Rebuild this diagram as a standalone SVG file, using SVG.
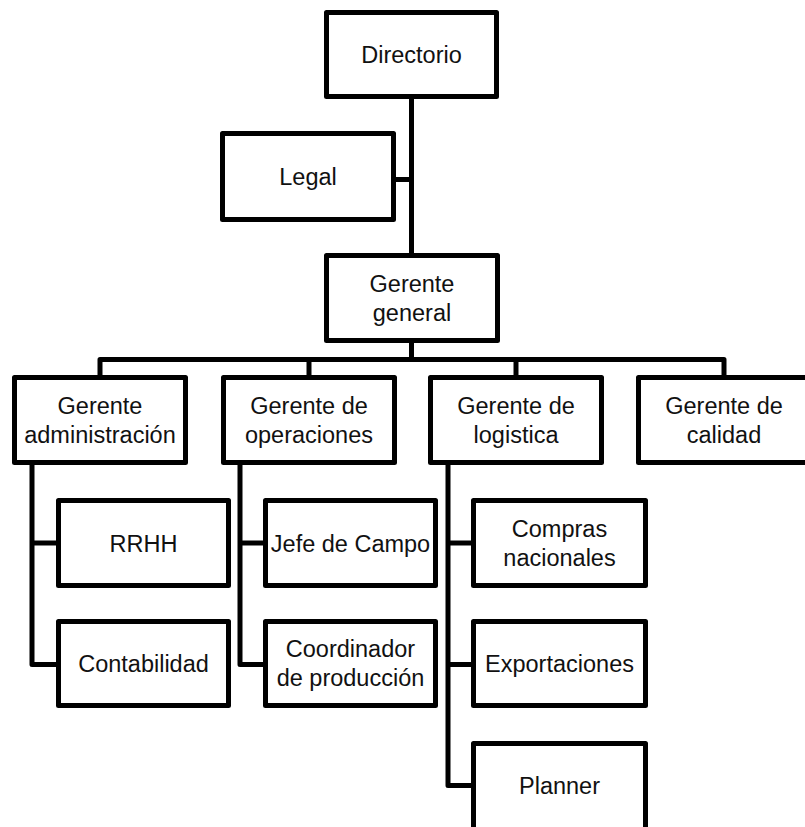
<svg xmlns="http://www.w3.org/2000/svg" width="805" height="827" viewBox="0 0 805 827">
<style>
.box{fill:#fff;stroke:#000;stroke-width:5;stroke-linejoin:round}
.con{fill:none;stroke:#000;stroke-width:5;stroke-linejoin:round}
text{font-family:"Liberation Sans",Arial,sans-serif;font-size:23.5px;fill:#111;text-anchor:middle}
</style>
<rect width="805" height="827" fill="#fff"/>
<g id="connectors">
<path class="con" d="M411.5,96.5 V255.5"/>
<path class="con" d="M393.5,179.5 H411.5"/>
<path class="con" d="M411.5,340.5 V359.5"/>
<path class="con" d="M100,377.5 V359.5 H724 V377.5"/>
<path class="con" d="M309,359.5 V377.5"/>
<path class="con" d="M516,359.5 V377.5"/>
<path class="con" d="M32,462.5 V664.5 H58.5"/>
<path class="con" d="M32,543 H58.5"/>
<path class="con" d="M240,462.5 V664.5 H265.5"/>
<path class="con" d="M240,543 H265.5"/>
<path class="con" d="M448,462.5 V785.5 H473.5"/>
<path class="con" d="M448,543 H473.5"/>
<path class="con" d="M448,664.5 H473.5"/>
</g>
<g id="directorio"><rect class="box" x="326.5" y="12.5" width="170" height="84"/><text x="411.5" y="63">Directorio</text></g>
<g id="legal"><rect class="box" x="222.5" y="133.5" width="171" height="86"/><text x="308" y="185">Legal</text></g>
<g id="gerente-general"><rect class="box" x="326.5" y="255.5" width="171" height="85"/><text x="412" y="292">Gerente</text><text x="412" y="321">general</text></g>
<g id="gerente-administracion"><rect class="box" x="14.5" y="377.5" width="171" height="85"/><text x="100" y="414">Gerente</text><text x="100" y="443">administración</text></g>
<g id="gerente-operaciones"><rect class="box" x="223.5" y="377.5" width="171" height="85"/><text x="309" y="414">Gerente de</text><text x="309" y="443">operaciones</text></g>
<g id="gerente-logistica"><rect class="box" x="430.5" y="377.5" width="171" height="85"/><text x="516" y="414">Gerente de</text><text x="516" y="443">logistica</text></g>
<g id="gerente-calidad"><rect class="box" x="638.5" y="377.5" width="171" height="85"/><text x="724" y="414">Gerente de</text><text x="724" y="443">calidad</text></g>
<g id="rrhh"><rect class="box" x="58.5" y="500.5" width="170" height="85"/><text x="143.5" y="551.5">RRHH</text></g>
<g id="contabilidad"><rect class="box" x="58.5" y="621.5" width="170" height="84"/><text x="143.5" y="672">Contabilidad</text></g>
<g id="jefe-de-campo"><rect class="box" x="265.5" y="500.5" width="170" height="85"/><text x="350.5" y="551.5">Jefe de Campo</text></g>
<g id="coordinador-produccion"><rect class="box" x="265.5" y="621.5" width="170" height="84"/><text x="350.5" y="657">Coordinador</text><text x="350.5" y="686">de producción</text></g>
<g id="compras-nacionales"><rect class="box" x="473.5" y="500.5" width="172" height="85"/><text x="559.5" y="537">Compras</text><text x="559.5" y="566">nacionales</text></g>
<g id="exportaciones"><rect class="box" x="473.5" y="621.5" width="172" height="84"/><text x="559.5" y="672">Exportaciones</text></g>
<g id="planner"><rect class="box" x="473.5" y="743.5" width="172" height="86"/><text x="559.5" y="794">Planner</text></g>
</svg>
